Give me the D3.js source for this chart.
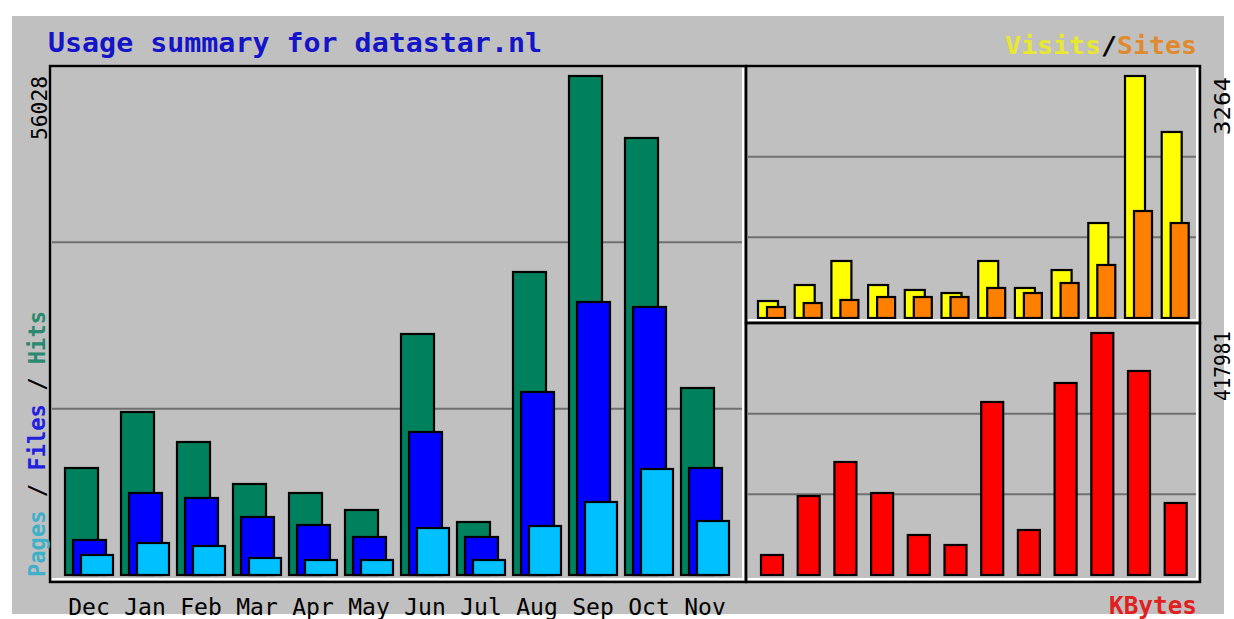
<!DOCTYPE html>
<html>
<head>
<meta charset="utf-8">
<script src="https://cdn.jsdelivr.net/npm/d3@7"></script>
<style>
  html, body { margin: 0; padding: 0; background: #fff; }
  svg { display: block; }
  text { font-family: "DejaVu Sans Mono", "Liberation Mono", monospace; }
</style>
</head>
<body>
<div id="app"></div>
<script>
// months as shown on the x axis
const months = ["Dec","Jan","Feb","Mar","Apr","May","Jun","Jul","Aug","Sep","Oct","Nov"];

// left panel series
const hits  = [12014,18302,14933,10218,9207,7298,27060,5951,34021,56028,49067,20997];
const files = [3930,9207,8646,6512,5614,4267,16056,4267,20548,30653,30092,12014];
const pages = [2246,3593,3256,1909,1684,1684,5277,1684,5502,8197,11902,6063];

// right panels
const visits = [229,445,769,445,378,337,769,405,647,1281,3264,2509];
const sites  = [148,202,243,283,283,283,405,337,472,715,1443,1281];
const kbytes = [34544,136449,195174,141630,69088,51816,298806,77724,331623,417981,352351,124358];

const maxHits = 56028, maxVisits = 3264, maxKB = 417981;

const W = 1234, H = 619;
const svg = d3.select("#app").append("svg").attr("width", W).attr("height", H);

const col = {
  bg: "#c0c0c0", hits: "#00805c", files: "#0000ff", pages: "#00c0ff",
  visits: "#ffff00", sites: "#ff8000", kb: "#ff0000", grid: "#707070"
};

svg.append("rect").attr("x", 12).attr("y", 16).attr("width", 1212).attr("height", 598).attr("fill", col.bg);

// panel frame: black outline, white inner line on right/bottom
function frame(x0, y0, x1, y1){
  const g = svg.append("g");
  g.append("rect").attr("x", x0).attr("y", y0).attr("width", x1-x0).attr("height", y1-y0)
    .attr("fill", "none").attr("stroke", "#000").attr("stroke-width", 2.4);
  g.append("path").attr("d", `M${x1-3},${y0+2}V${y1-3}H${x0+2}`)
    .attr("fill", "none").attr("stroke", "#fff").attr("stroke-width", 2);
}
function grid(y, x0, x1, lo, hi){
  const ys = [1/3, 2/3].map(f => y(f*hi));
  svg.append("g").selectAll("line").data(ys).join("line")
    .attr("x1", x0).attr("x2", x1).attr("y1", d => d).attr("y2", d => d)
    .attr("stroke", col.grid).attr("stroke-width", 2);
}
function bars(data, x, y, off, w, fill){
  svg.append("g").selectAll("rect").data(data).join("rect")
    .attr("x", (d,i) => x(months[i]) + off)
    .attr("y", d => y(d))
    .attr("width", w)
    .attr("height", d => y(0) - y(d))
    .attr("fill", fill).attr("stroke", "#000").attr("stroke-width", 2.2);
}

// ---- left panel: hits / files / pages
const xL = d3.scaleBand().domain(months).range([58, 58 + 56*12]);
const yL = d3.scaleLinear().domain([0, maxHits]).range([575, 76]);
grid(yL, 52, 744, 0, maxHits);
bars(hits,  xL, yL, 7, 33, col.hits);
bars(files, xL, yL, 15, 33, col.files);
bars(pages, xL, yL, 23, 32, col.pages);
frame(50, 66, 746, 582);

svg.append("g").selectAll("text").data(months).join("text")
  .attr("x", d => xL(d) + 31).attr("y", 615)
  .attr("text-anchor", "middle").attr("font-size", 23).attr("fill", "#000")
  .text(d => d);

// ---- top right: visits / sites
const xR = d3.scaleBand().domain(months).range([752, 752 + 36.7*12]);
const yV = d3.scaleLinear().domain([0, maxVisits]).range([318, 76]);
grid(yV, 748, 1198, 0, maxVisits);
bars(visits, xR, yV, 6, 20, col.visits);
bars(sites,  xR, yV, 15, 18, col.sites);
frame(746, 66, 1200, 323);

// ---- bottom right: kbytes
const yK = d3.scaleLinear().domain([0, maxKB]).range([575, 333]);
grid(yK, 748, 1198, 0, maxKB);
bars(kbytes, xR, yK, 9, 22, col.kb);
frame(746, 323, 1200, 582);

// ---- texts
svg.append("text").attr("x", 48).attr("y", 52)
  .attr("font-size", 27).attr("font-weight", "bold").attr("fill", "#1414c8")
  .attr("textLength", 494).attr("lengthAdjust", "spacingAndGlyphs")
  .text("Usage summary for datastar.nl");

const legTop = svg.append("text").attr("x", 1197).attr("y", 54).attr("text-anchor", "end")
  .attr("font-size", 24).attr("font-weight", "bold")
  .attr("textLength", 192).attr("lengthAdjust", "spacingAndGlyphs");
legTop.append("tspan").attr("fill", "#e8e830").text("Visits");
legTop.append("tspan").attr("fill", "#000").text("/");
legTop.append("tspan").attr("fill", "#e08a30").text("Sites");

svg.append("text").attr("x", 1197).attr("y", 614).attr("text-anchor", "end")
  .attr("font-size", 24).attr("font-weight", "bold").attr("fill", "#e02020")
  .attr("textLength", 88).attr("lengthAdjust", "spacingAndGlyphs")
  .text("KBytes");

function vtext(x, y, str, size, len, bold){
  return svg.append("text").attr("transform", `translate(${x},${y}) rotate(-90)`)
    .attr("font-size", size).attr("font-weight", bold ? "bold" : "normal")
    .attr("textLength", len).attr("lengthAdjust", "spacingAndGlyphs")
    .text(str);
}
vtext(47, 140, maxHits, 22, 64, false).attr("fill", "#000");
vtext(1230, 135, maxVisits, 22, 58, false).attr("fill", "#000");
vtext(1230, 401, maxKB, 22, 70, false).attr("fill", "#000");

const yLab = svg.append("text").attr("transform", "translate(45,577) rotate(-90)")
  .attr("font-size", 23).attr("font-weight", "bold")
  .attr("textLength", 266).attr("lengthAdjust", "spacingAndGlyphs");
yLab.append("tspan").attr("fill", "#40b0c8").text("Pages");
yLab.append("tspan").attr("fill", "#000").text(" / ");
yLab.append("tspan").attr("fill", "#2020e0").text("Files");
yLab.append("tspan").attr("fill", "#000").text(" / ");
yLab.append("tspan").attr("fill", "#2a8a70").text("Hits");
</script>
</body>
</html>
